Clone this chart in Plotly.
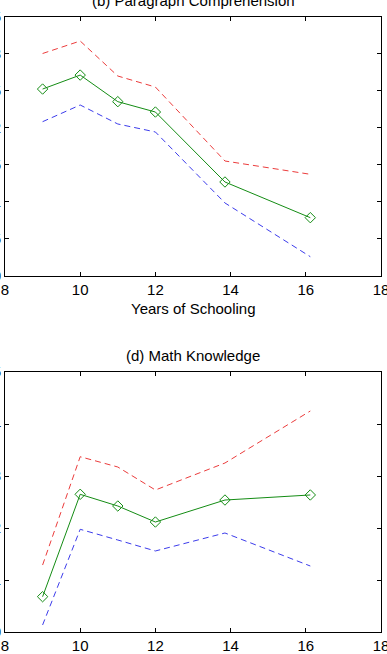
import plotly.graph_objects as go
from plotly.subplots import make_subplots

# Years of schooling (x positions of the points)
years = [9.0, 10.0, 11.0, 12.0, 13.85, 16.12]

# (b) Paragraph Comprehension
pc_est = [0.2525, 0.2714, 0.2354, 0.2214, 0.1267, 0.0784]
pc_upper = [0.3006, 0.3175, 0.2701, 0.2552, 0.1551, 0.1371]
pc_lower = [0.2083, 0.2309, 0.2052, 0.1944, 0.0983, 0.0256]

# (d) Math Knowledge
mk_est = [0.0679, 0.2648, 0.2423, 0.2115, 0.2538, 0.2635]
mk_upper = [0.1288, 0.3371, 0.3173, 0.2731, 0.3250, 0.4250]
mk_lower = [0.0135, 0.1975, 0.1769, 0.1558, 0.1904, 0.1269]

x_ticks = [8, 10, 12, 14, 16, 18]
pc_yticks = [0, 0.05, 0.1, 0.15, 0.2, 0.25, 0.3, 0.35]
mk_yticks = [0, 0.1, 0.2, 0.3, 0.4, 0.5]

titles = ["(b) Paragraph Comprehension", "(d) Math Knowledge"]
xlabel = "Years of Schooling"

RED = "rgb(235,60,60)"
BLUE = "rgb(60,60,235)"
GREEN = "rgb(20,140,20)"
FONT = "Liberation Sans, Arial, sans-serif"
FS = 15

fig = make_subplots(rows=2, cols=1)

for row, (est, up, lo) in enumerate([(pc_est, pc_upper, pc_lower),
                                      (mk_est, mk_upper, mk_lower)], start=1):
    fig.add_trace(go.Scatter(x=years, y=up, mode="lines",
                             line=dict(color=RED, width=1, dash="6px,4px"),
                             showlegend=False), row=row, col=1)
    fig.add_trace(go.Scatter(x=years, y=lo, mode="lines",
                             line=dict(color=BLUE, width=1, dash="6px,4px"),
                             showlegend=False), row=row, col=1)
    fig.add_trace(go.Scatter(x=years, y=est, mode="lines+markers",
                             line=dict(color=GREEN, width=1),
                             marker=dict(symbol="diamond-open", size=8,
                                         color=GREEN, line=dict(width=1, color=GREEN)),
                             showlegend=False), row=row, col=1)

H = 654
top_m, bot_m = 17, 22
ph = H - top_m - bot_m

def py(pix):
    return (H - bot_m - pix) / ph

axis_common = dict(showline=True, linecolor="black", linewidth=1, mirror="ticks",
                   ticks="inside", ticklen=4, tickcolor="black", showgrid=False,
                   zeroline=False, automargin=False, ticklabeloverflow="allow",
                   tickfont=dict(family=FONT, size=FS, color="black"))

fig.update_layout(
    width=387, height=654,
    margin=dict(l=5, r=6, t=top_m, b=bot_m),
    template="none",
    paper_bgcolor="white", plot_bgcolor="white",
    showlegend=False,
    xaxis=dict(domain=[0, 1], range=[8, 18], tickvals=x_ticks, **axis_common),
    yaxis=dict(domain=[py(275.6), 1], range=[0, 0.35], tickvals=pc_yticks, **axis_common),
    xaxis2=dict(domain=[0, 1], range=[8, 18], tickvals=x_ticks, **axis_common),
    yaxis2=dict(domain=[0, py(372)], range=[0, 0.5], tickvals=mk_yticks, **axis_common),
)

fig.add_annotation(text=titles[0], xref="paper", yref="paper", x=0.5, y=py(1),
                   showarrow=False, yanchor="middle",
                   font=dict(family=FONT, size=FS, color="black"))
fig.add_annotation(text=titles[1], xref="paper", yref="paper", x=0.5, y=py(355),
                   showarrow=False, yanchor="middle",
                   font=dict(family=FONT, size=FS, color="black"))
fig.add_annotation(text=xlabel, xref="paper", yref="paper", x=0.5, y=py(308),
                   showarrow=False, yanchor="middle",
                   font=dict(family=FONT, size=FS, color="black"))

fig.write_html("out.html")
